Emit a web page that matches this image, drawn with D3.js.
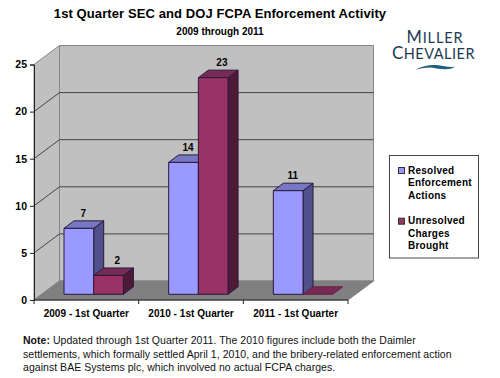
<!DOCTYPE html>
<html><head><meta charset="utf-8">
<script src="https://cdn.jsdelivr.net/npm/d3@7"></script>
<style>html,body{margin:0;padding:0;background:#fff}svg{display:block;font-family:"Liberation Sans",Arial,sans-serif}</style>
</head><body><svg id="c" width="500" height="378"></svg>
<script>
const categories = ["2009 - 1st Quarter","2010 - 1st Quarter","2011 - 1st Quarter"];
const seriesNames = ["Resolved","Unresolved"];
const resolved = [7,14,11];
const unresolved = [2,23,0];
const yTicks = [0,5,10,15,20,25];
const legendLines = [["Resolved","Enforcement","Actions"],["Unresolved","Charges","Brought"]];
const noteLines = [
 ["Note:"," Updated through 1st Quarter 2011. The 2010 figures include both the Daimler"],
 ["","settlements, which formally settled April 1, 2010, and the bribery-related enforcement action"],
 ["","against BAE Systems plc, which involved no actual FCPA charges."]];
const fills = {Resolved:{f:"#9999ff",s:"#50508a",t:"#7777c4",dx:4.5},Unresolved:{f:"#993366",s:"#4f1a37",t:"#772a55",dx:8.7}};

const svg = d3.select("#c");
const y = d3.scaleLinear().domain([0,25]).range([300,64.5]);
const x = d3.scaleBand().domain(categories).range([34,348]);
const x1 = d3.scaleBand().domain(seriesNames).range([30,89.4]);
const D = {x:25.5,y:-19}, bd = {x:10,y:-7.5}, baseShift = -5.7;
const line = d3.line();

const wall="#c0c0c0", edge="#868686";
const [x0,xN]=x.range();
svg.append("path").attr("d",line([[x0,y(0)],[x0+D.x,y(0)+D.y],[x0+D.x,y(25)+D.y],[x0,y(25)]])+"Z").attr("fill",wall).attr("stroke",edge);
svg.append("path").attr("d",line([[x0+D.x,y(0)+D.y],[xN+D.x,y(0)+D.y],[xN+D.x,y(25)+D.y],[x0+D.x,y(25)+D.y]])+"Z").attr("fill",wall).attr("stroke",edge);
svg.append("path").attr("d",line([[x0,y(0)],[xN,y(0)],[xN+D.x,y(0)+D.y],[x0+D.x,y(0)+D.y]])+"Z").attr("fill","#808080").attr("stroke","#808080");

yTicks.filter(t=>t>0&&t<25).forEach(t=>{
  svg.append("path").attr("d",line([[x0,y(t)],[x0+D.x,y(t)+D.y],[xN+D.x,y(t)+D.y]])).attr("fill","none").attr("stroke","#444").attr("stroke-width",1);
});

const ax = svg.append("g").attr("transform",`translate(${x0},0)`)
  .call(d3.axisLeft(y).tickValues(yTicks).tickSize(4).tickPadding(3));
ax.selectAll("path,line").attr("stroke","#222");
ax.selectAll("text").attr("font-size",10.5).attr("font-weight","bold").attr("fill","#000").attr("font-family","Liberation Sans");
svg.append("path").attr("d",line([[x0,y(0)],[xN,y(0)]])).attr("stroke","#222");
const tickPos=[...categories.map(c=>x(c)),xN];
svg.selectAll(".xt").data(tickPos).join("line").attr("x1",d=>d).attr("x2",d=>d).attr("y1",y(0)).attr("y2",y(0)+4).attr("stroke","#222");
svg.selectAll(".xl").data(categories).join("text").attr("x",c=>x(c)+x.bandwidth()/2).attr("y",y(0)+17)
  .attr("text-anchor","middle").attr("font-size",10).attr("font-weight","bold").attr("letter-spacing",0.05).text(c=>c);

const rows = categories.map((c,i)=>[{c,k:"Resolved",v:resolved[i]},{c,k:"Unresolved",v:unresolved[i]}]);
rows.forEach(row=>row.forEach(d=>{
  const col=fills[d.k], a=x(d.c)+x1(d.k), b=a+x1.bandwidth(), base=y(0)+baseShift, top=y(d.v)+baseShift;
  const g=svg.append("g").attr("stroke","#2a1a3a").attr("stroke-width",1).attr("stroke-linejoin","round");
  if(d.v>0){
    g.append("path").attr("d",line([[b,top],[b+bd.x,top+bd.y],[b+bd.x,base+bd.y],[b,base]])+"Z").attr("fill",col.s);
    g.append("path").attr("d",line([[a,top],[a+bd.x,top+bd.y],[b+bd.x,top+bd.y],[b,top]])+"Z").attr("fill",col.t);
    g.append("rect").attr("x",a).attr("y",top).attr("width",b-a).attr("height",base-top).attr("fill",col.f);
    svg.append("text").attr("x",(a+b)/2+col.dx).attr("y",top+bd.y-4).attr("text-anchor","middle").attr("font-size",10).attr("font-weight","bold").text(d.v);
  } else {
    g.attr("stroke","#6b2048");
    g.append("path").attr("d",line([[a,top],[a+bd.x,top+bd.y],[b+bd.x,top+bd.y],[b,top]])+"Z").attr("fill",col.t);
  }
}));

svg.append("text").attr("x",220).attr("y",18).attr("text-anchor","middle").attr("font-size",13).attr("font-weight","bold").attr("letter-spacing",0.1).text("1st Quarter SEC and DOJ FCPA Enforcement Activity");
svg.append("text").attr("x",220).attr("y",35).attr("text-anchor","middle").attr("font-size",10).attr("font-weight","bold").text("2009 through 2011");

const logo = svg.append("g").attr("fill","#1d3a52").attr("font-family","Lato").attr("text-anchor","middle");
const miller = logo.append("text").attr("x",435).attr("y",42.5).attr("font-size",16.5).attr("letter-spacing",0.9);
miller.append("tspan").text("M"); miller.append("tspan").attr("font-size",14.5).text("ILLER");
const chev = logo.append("text").attr("x",433.5).attr("y",58.5).attr("font-size",17).attr("letter-spacing",0.5);
chev.append("tspan").text("C"); chev.append("tspan").attr("font-size",14.5).text("HEVALIER");
svg.append("path").attr("d","M415,70 C425,64 436,64 446,66.5 C449,67 453,67 455,66.5 C450,71 440,69 430,67.5 C424,67.5 420,68.5 415,70Z").attr("fill","#1f5f7f");

svg.append("rect").attr("x",389.5).attr("y",155.5).attr("width",89).attr("height",102.5).attr("fill","#fff").attr("stroke","#444");
legendLines.forEach((ls,i)=>{
  const oy=i*50.7;
  svg.append("rect").attr("x",398.5).attr("y",167.5+oy).attr("width",6).attr("height",6).attr("fill",fills[seriesNames[i]].f).attr("stroke","#333");
  ls.forEach((t,j)=>svg.append("text").attr("x",408).attr("y",173.5+oy+j*12.6).attr("font-size",10).attr("font-weight","bold").attr("letter-spacing",0.25).text(t));
});

noteLines.forEach((l,i)=>{
  const t=svg.append("text").attr("x",23).attr("y",344+i*13.5).attr("font-size",10.5).attr("letter-spacing",0.04).attr("fill","#111");
  if(l[0]) t.append("tspan").attr("font-weight","bold").text(l[0]);
  t.append("tspan").text(l[1]);
});
</script></body></html>
